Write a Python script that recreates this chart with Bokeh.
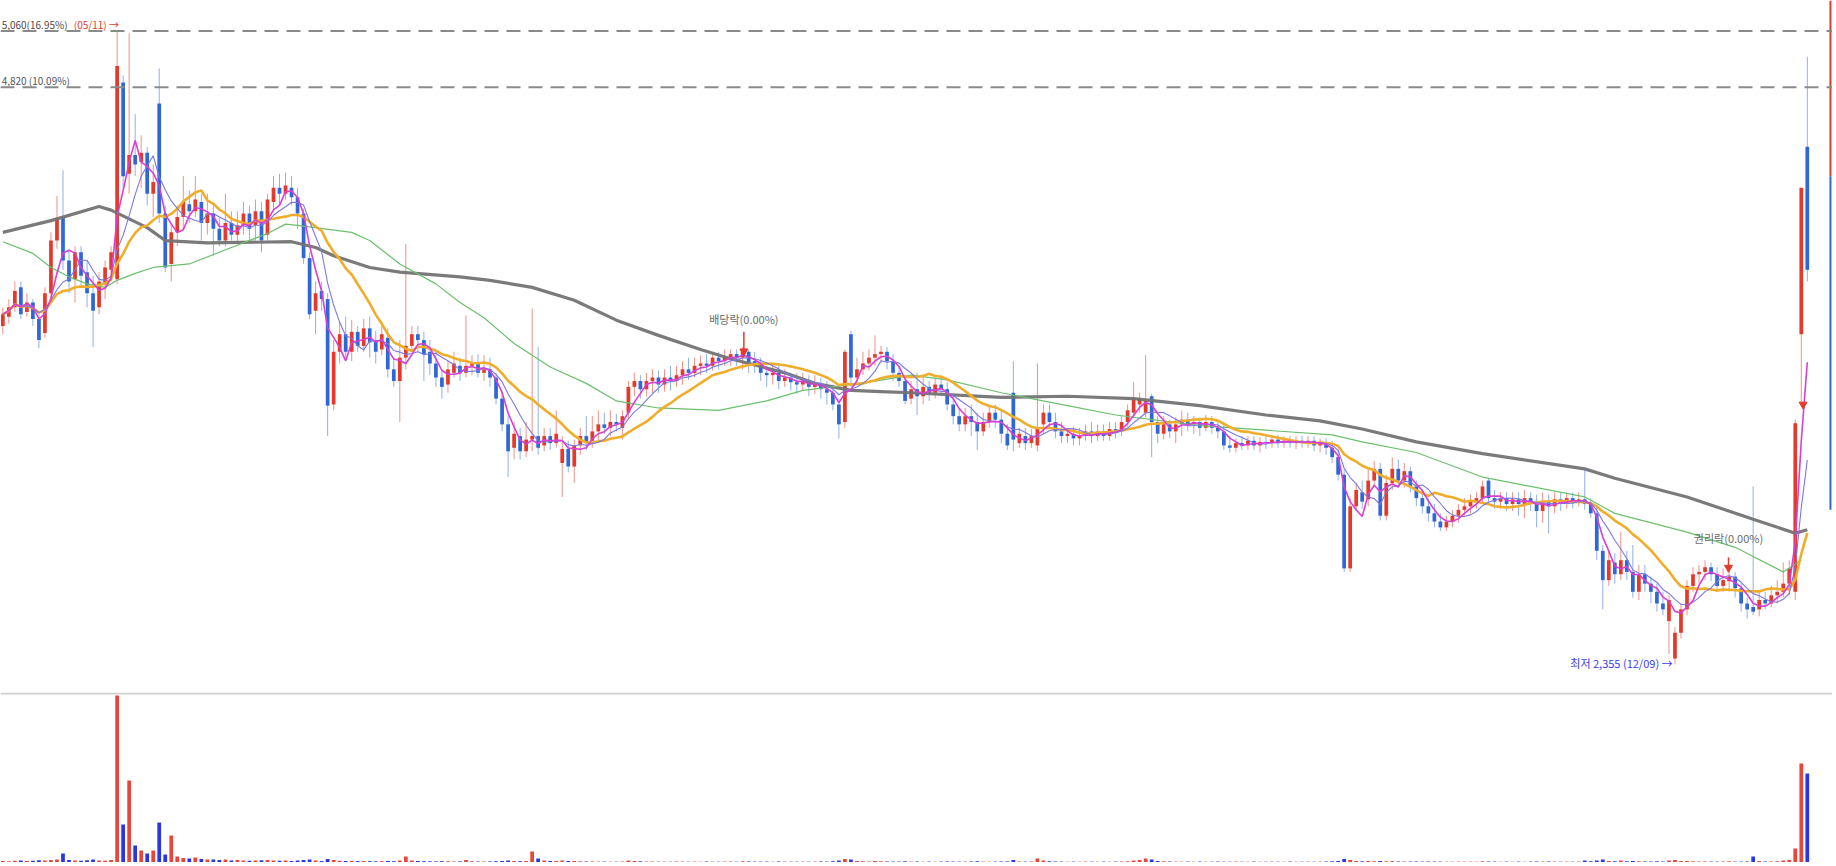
import numpy as np
import pandas as pd
from bokeh.plotting import figure
from bokeh.models import ColumnDataSource, Span, Range1d
from bokeh.layouts import column
from bokeh.embed import file_html
from bokeh.resources import INLINE
from bokeh.core.properties import value

# ---------------- data (daily candles, price in KRW) ----------------
opens = [
    3800,3840,3880,3965,3860,3900,3830,3770,3940,4165,
    4265,4080,4000,4115,4030,3940,3880,3980,4040,4000,
    4840,4450,4530,4500,4540,4365,4750,4280,4065,4200,
    4265,4320,4290,4330,4240,4280,4215,4165,4240,4190,
    4230,4280,4230,4290,4190,4330,4390,4365,4390,4350,
    4280,4090,3865,3950,3915,3465,3690,3765,3690,3775,
    3715,3790,3740,3700,3750,3615,3565,3665,3715,3765,
    3740,3690,3640,3580,3550,3600,3630,3600,3630,3640,
    3600,3615,3580,3490,3380,3280,3330,3265,3315,3330,
    3290,3330,3300,3215,3275,3200,3290,3330,3310,3350,
    3380,3365,3390,3365,3430,3540,3565,3530,3565,3580,
    3550,3580,3565,3590,3615,3600,3630,3640,3630,3665,
    3650,3665,3680,3665,3690,3650,3630,3600,3590,3600,
    3565,3580,3560,3550,3565,3540,3550,3530,3515,3465,
    3390,3765,3580,3615,3640,3665,3680,3690,3650,3600,
    3565,3490,3530,3500,3540,3515,3550,3530,3465,3415,
    3380,3415,3390,3350,3390,3430,3400,3340,3515,3300,
    3330,3300,3290,3380,3430,3390,3350,3330,3340,3320,
    3330,3350,3330,3350,3330,3360,3350,3390,3430,3465,
    3430,3500,3390,3340,3380,3350,3380,3400,3380,3390,
    3365,3390,3365,3350,3290,3280,3300,3290,3310,3290,
    3305,3300,3315,3300,3310,3300,3310,3300,3310,3290,
    3300,3280,3240,3165,2765,3030,3090,3060,3140,3190,
    2990,3130,3190,3140,3180,3115,3065,3030,3000,2965,
    2940,2965,2990,3015,3030,3050,3065,3140,3065,3050,
    3065,3040,3060,3040,3065,3040,3010,3050,3030,3060,
    3040,3065,3050,3060,3040,3000,2840,2715,2790,2740,
    2800,2750,2665,2740,2700,2665,2615,2540,2380,2490,
    2590,2690,2740,2750,2770,2740,2690,2710,2730,2680,
    2615,2600,2590,2630,2615,2650,2665,2700,2665,3765,4565,
]
highs = [
    3880,3915,3990,3990,3940,3915,3850,3965,4200,4355,
    4465,4130,4140,4140,4080,4015,4030,4080,4140,5060,
    4870,5050,4705,4615,4565,4490,4900,4315,4240,4315,
    4440,4380,4440,4365,4365,4330,4265,4365,4290,4290,
    4330,4315,4340,4330,4365,4440,4450,4455,4440,4390,
    4300,4115,3990,3990,3940,3740,3815,3840,3825,3800,
    3830,3840,3780,3800,3790,3665,3740,4150,3800,3800,
    3775,3740,3690,3615,3650,3690,3665,3845,3675,3680,
    3675,3665,3600,3515,3415,3390,3365,3390,3875,3710,
    3365,3365,3440,3330,3310,3315,3365,3415,3415,3440,
    3430,3440,3425,3440,3565,3600,3590,3600,3615,3610,
    3615,3630,3630,3650,3665,3665,3675,3680,3690,3690,
    3700,3700,3700,3710,3700,3690,3665,3630,3640,3630,
    3615,3600,3600,3600,3590,3590,3580,3565,3550,3490,
    3700,3780,3665,3690,3700,3760,3715,3710,3680,3630,
    3590,3565,3600,3580,3565,3580,3590,3560,3500,3450,
    3450,3465,3430,3430,3465,3465,3440,3380,3650,3365,
    3365,3360,3640,3465,3465,3430,3390,3365,3370,3365,
    3380,3390,3380,3380,3390,3390,3415,3465,3560,3515,
    3675,3510,3415,3415,3400,3410,3440,3430,3415,3410,
    3420,3415,3400,3380,3330,3320,3330,3330,3330,3325,
    3330,3335,3335,3330,3330,3330,3330,3330,3330,3320,
    3320,3310,3270,3190,3065,3130,3140,3190,3225,3215,
    3165,3240,3230,3215,3200,3140,3100,3065,3040,3000,
    2990,3015,3040,3065,3080,3090,3140,3150,3100,3090,
    3090,3090,3090,3100,3090,3080,3090,3080,3090,3090,
    3090,3090,3090,3185,3065,3030,2865,2840,2830,2920,
    2840,2865,2780,2780,2730,2700,2665,2650,2515,2615,
    2715,2770,2780,2800,2790,2770,2765,2780,2750,2700,
    2640,3115,2665,2665,2690,2715,2790,2800,3400,4390,4950,
]
lows = [
    3765,3810,3860,3830,3840,3800,3705,3750,3900,4130,
    4040,3940,3900,3965,3880,3710,3850,3915,3990,3980,
    4390,4365,4440,4390,4315,4265,4240,4030,3990,4140,
    4215,4240,4265,4165,4190,4100,4140,4140,4165,4155,
    4190,4165,4165,4115,4165,4290,4315,4340,4315,4215,
    4065,3830,3765,3865,3330,3440,3640,3665,3650,3690,
    3690,3665,3640,3675,3580,3540,3390,3615,3690,3690,
    3565,3590,3540,3490,3515,3580,3565,3580,3590,3580,
    3565,3540,3465,3350,3155,3230,3230,3240,3265,3250,
    3265,3270,3280,3070,3175,3130,3250,3270,3280,3300,
    3340,3330,3350,3315,3400,3500,3490,3500,3515,3515,
    3520,3525,3540,3550,3570,3580,3590,3600,3610,3615,
    3630,3630,3630,3615,3600,3600,3565,3540,3550,3530,
    3540,3525,3510,3525,3500,3510,3490,3465,3440,3320,
    3365,3540,3550,3590,3610,3630,3640,3615,3565,3540,
    3465,3465,3420,3465,3480,3490,3500,3440,3380,3350,
    3350,3330,3270,3330,3365,3365,3300,3270,3265,3280,
    3270,3280,3265,3340,3365,3320,3300,3300,3290,3290,
    3310,3300,3310,3310,3310,3320,3330,3370,3410,3430,
    3410,3240,3300,3315,3320,3300,3330,3350,3340,3330,
    3350,3340,3320,3270,3260,3260,3270,3270,3270,3260,
    3275,3280,3280,3280,3280,3275,3280,3280,3265,3260,
    3250,3215,3140,2750,2750,3010,3020,3030,3115,2970,
    2970,3100,3115,3110,3090,3030,3000,2965,2940,2925,
    2925,2940,2960,2990,3000,3020,3040,3040,3020,3020,
    3010,3010,2990,2980,3010,2940,2960,2915,3000,3010,
    3020,3020,3030,3015,2980,2800,2590,2690,2700,2715,
    2715,2640,2630,2665,2615,2580,2565,2400,2355,2465,
    2565,2665,2700,2715,2710,2665,2665,2665,2640,2580,
    2550,2565,2560,2590,2600,2615,2640,2650,2630,3465,3990,
]
closes = [
    3850,3880,3950,3850,3900,3830,3740,3940,4165,4260,
    4080,3990,4115,4015,3940,3865,3990,4050,4115,4910,
    4440,4530,4490,4540,4365,4415,4280,4050,4200,4265,
    4330,4290,4340,4240,4280,4215,4165,4240,4190,4230,
    4280,4215,4290,4165,4340,4390,4365,4400,4350,4280,
    4090,3850,3940,3915,3460,3690,3765,3690,3775,3715,
    3790,3730,3690,3765,3615,3565,3665,3715,3765,3740,
    3680,3640,3580,3540,3615,3640,3600,3630,3640,3600,
    3615,3580,3490,3380,3265,3340,3265,3315,3330,3280,
    3330,3300,3340,3275,3200,3290,3330,3300,3350,3380,
    3365,3390,3380,3415,3540,3565,3530,3565,3580,3550,
    3580,3565,3590,3615,3600,3630,3640,3630,3665,3650,
    3665,3680,3665,3690,3640,3630,3600,3590,3600,3565,
    3580,3560,3550,3565,3540,3550,3530,3515,3465,3380,
    3690,3580,3615,3640,3665,3680,3690,3650,3600,3565,
    3480,3530,3500,3540,3515,3550,3530,3465,3415,3380,
    3415,3390,3350,3390,3430,3400,3340,3290,3315,3340,
    3300,3330,3365,3430,3390,3350,3330,3340,3320,3330,
    3350,3330,3350,3330,3360,3350,3390,3440,3490,3490,
    3480,3390,3340,3380,3350,3380,3400,3380,3390,3365,
    3390,3365,3350,3290,3280,3300,3290,3310,3290,3305,
    3300,3315,3300,3310,3300,3310,3300,3310,3290,3300,
    3280,3240,3165,2765,3030,3100,3050,3140,3190,2990,
    3130,3190,3140,3180,3115,3065,3030,3000,2965,2940,
    2965,2990,3015,3030,3050,3065,3115,3065,3050,3065,
    3040,3060,3040,3065,3040,3010,3050,3030,3060,3040,
    3065,3050,3060,3040,3000,2840,2715,2800,2740,2800,
    2750,2665,2740,2700,2665,2615,2590,2630,2490,2590,
    2690,2740,2750,2770,2740,2690,2715,2730,2680,2615,
    2590,2580,2630,2615,2650,2665,2700,2765,3385,4390,4040,
]
# volume, thousand shares
volumes = [
    150,120,180,200,150,170,220,190,260,300,
    900,250,200,180,220,300,200,180,260,16700,
    3800,8200,1700,1200,900,1200,4000,800,2700,600,
    450,400,500,350,300,300,250,300,200,250,
    200,180,200,220,250,200,180,200,150,200,
    250,300,200,150,350,250,180,150,160,140,
    150,130,120,140,150,130,200,600,200,150,
    130,120,110,130,120,100,110,250,120,100,
    100,110,130,150,200,150,130,150,1100,400,
    200,150,150,200,150,150,120,100,100,90,
    90,80,80,100,200,150,120,100,90,80,
    90,80,100,90,80,90,80,100,90,80,
    90,100,80,120,100,90,80,90,80,100,
    90,80,80,90,80,90,100,90,120,200,
    350,300,150,120,100,150,120,100,90,90,
    120,90,100,80,90,80,90,100,90,80,
    90,100,120,90,80,90,100,110,250,100,
    90,100,400,200,120,100,90,80,90,80,
    90,80,80,90,80,90,100,120,200,250,
    400,300,150,120,100,90,80,90,80,90,
    80,80,90,80,80,90,80,80,90,80,
    80,90,80,80,90,80,80,90,80,90,
    100,120,150,350,250,150,120,150,120,150,
    120,130,100,100,90,100,90,100,90,90,
    80,80,90,80,90,80,120,100,90,80,
    90,80,90,80,90,100,90,100,90,80,
    90,80,90,200,120,200,300,150,120,200,
    120,150,120,100,100,120,100,200,250,150,
    150,120,100,100,90,90,100,120,90,90,
    100,600,150,100,100,120,200,250,1400,9900,8900,
]

# long moving averages as drawn on the chart
ma60_x = [0,5,8,11,14,17,19,22,25,31,38,44,47,49,58,61,66,72,76,80,85,91,97,102,109,119,127,133,138,144,
          151,157,166,177,185,199,210,221,226,235,246,252,263,268,280,288,296,299]
ma60_y = [4160,4110,4050,4010,3980,3965,3995,4025,4050,4065,4135,4195,4235,4230,4200,4165,4065,3980,3900,3835,
          3725,3625,3555,3480,3450,3440,3480,3525,3540,3560,3590,3570,3515,3460,3420,3375,3355,3335,3305,3260,
          3155,3125,3070,3000,2920,2855,2750,2800]
ma120_x = [0,8,16,18,24,27,34,48,52,55,61,66,76,81,88,95,102,109,116,121,130,135,141,146,151,166,177,188,199,210,
           219,226,235,246,263,268,280,291,298,300]
ma120_y = [4200,4250,4310,4295,4220,4165,4155,4160,4135,4100,4050,4030,4010,3995,3965,3910,3825,3760,3700,3660,
           3600,3555,3525,3520,3515,3495,3500,3490,3460,3420,3395,3360,3305,3255,3190,3150,3070,2975,2915,2930]

# reference lines and labels
max_price = 5060
ref_price = 4820
max_label = "5,060(16.95%)"
max_date_label = "(05/11) →"
ref_label = "4,820 (10.09%)"
low_label = "최저 2,355 (12/09) →"
low_pos = (277.6, 2360)
event_x = [123.2, 286.9]
event_text = ["배당락(0.00%)", "권리락(0.00%)"]
event_text_y = [3795, 2862]
event_arrow_top = [3775, 2812]
event_arrow_tip = [3680, 2756]
last_mark = (299.3, 3465)
right_bar_x = 303.85
right_bar_red = (5190, 4440)
right_bar_blue = (4440, 3015)

N = len(closes)
assert len(opens) == N and len(highs) == N and len(lows) == N and len(volumes) == N, \
    (len(opens), len(highs), len(lows), len(closes), len(volumes))

# ---------------- figure ----------------
RED = "#e5392c"
BLUE = "#2f68d6"
RED_W = "#f29088"
BLUE_W = "#8fb0ea"
VRED = "#e8463b"
VBLUE = "#2a36e2"
FONT = value("Noto Sans CJK KR")

W = 1832
idx = np.arange(N)
o = np.array(opens, float)
h = np.array(highs, float)
l = np.array(lows, float)
c = np.array(closes, float)
up = c >= o
top = np.maximum(o, c)
bot = np.minimum(o, c)
top = np.where(top - bot < 4, bot + 4, top)

src = ColumnDataSource(dict(x=idx, h=h, l=l, top=top, bot=bot,
                            fill=np.where(up, RED, BLUE), wick=np.where(up, RED_W, BLUE_W)))

X0, X1 = -0.389, 304.19
p = figure(width=W, height=692, x_range=Range1d(X0, X1), y_range=Range1d(2235, 5190),
           output_backend="svg", toolbar_location=None, x_axis_location=None, y_axis_location=None,
           min_border=0)
p.outline_line_color = None
p.xgrid.grid_line_color = None
p.ygrid.grid_line_color = None

for loc in (max_price, ref_price):
    p.add_layout(Span(location=loc, dimension="width", line_color="#8a8a8a",
                      line_dash="14 8", line_width=2))

p.segment(x0="x", y0="h", x1="x", y1="l", line_color="wick", line_width=1, source=src)
p.vbar(x="x", width=0.62, top="top", bottom="bot", fill_color="fill", line_color=None, source=src)

cs = pd.Series(c)
ma_fast = cs.rolling(4, min_periods=1).mean()
ma_mid = cs.rolling(7, min_periods=1).mean()
ma_slow = cs.rolling(15, min_periods=1).mean()

p.line(ma120_x, ma120_y, line_color="#737373", line_width=3.2, line_alpha=0.95)
p.line(ma60_x, ma60_y, line_color="#6cc06c", line_width=1.2)
p.line(idx, ma_slow, line_color="#f0ad2b", line_width=2.6)
p.line(idx, ma_mid, line_color="#7b78e0", line_width=1.1)
p.line(idx, ma_fast, line_color="#d83fd4", line_width=1.6)

# event arrows
p.segment(x0=event_x, y0=event_arrow_top, x1=event_x, y1=event_arrow_tip, line_color=RED, line_width=1.5)
p.scatter(x=event_x, y=[v + 12 for v in event_arrow_tip], marker="inverted_triangle", size=8,
          fill_color=RED, line_color=RED)
p.text(x=event_x, y=event_text_y, text=event_text, text_font=FONT, text_font_size="11px",
       text_color="#6b6b6b", text_align="center", text_baseline="bottom")
p.scatter(x=[last_mark[0]], y=[last_mark[1]], marker="inverted_triangle", size=8,
          fill_color=RED, line_color=RED)

# max / reference / low labels
p.text(x=[-0.2], y=[5088], text=[max_label], text_font=FONT, text_font_size="10px",
       text_color="#5a4646", text_align="left", text_baseline="middle")
p.text(x=[11.8], y=[5088], text=[max_date_label], text_font=FONT, text_font_size="10px",
       text_color=RED, text_align="left", text_baseline="middle")
p.text(x=[-0.2], y=[4850], text=[ref_label], text_font=FONT, text_font_size="10px",
       text_color="#555555", text_align="left", text_baseline="middle")
p.text(x=[low_pos[0]], y=[low_pos[1]], text=[low_label], text_font=FONT, text_font_size="11px",
       text_color="#3b3bf2", text_align="right", text_baseline="middle")

# right edge bar
p.segment(x0=[right_bar_x], y0=[right_bar_red[0]], x1=[right_bar_x], y1=[right_bar_red[1]],
          line_color=RED, line_width=2)
p.segment(x0=[right_bar_x], y0=[right_bar_blue[0]], x1=[right_bar_x], y1=[right_bar_blue[1]],
          line_color=BLUE, line_width=2)

# ---------------- volume ----------------
vsrc = ColumnDataSource(dict(x=idx, v=volumes, col=np.where(up, VRED, VBLUE)))
p2 = figure(width=W, height=170, x_range=p.x_range, y_range=Range1d(0, 17000),
            output_backend="svg", toolbar_location=None, x_axis_location=None, y_axis_location=None,
            min_border=0)
p2.outline_line_color = None
p2.xgrid.grid_line_color = None
p2.ygrid.grid_line_color = None
p2.add_layout(Span(location=16900, dimension="width", line_color="#d0d0d0", line_width=2))
p2.vbar(x="x", width=0.62, top="v", bottom=0, fill_color="col", line_color=None, source=vsrc)

layout = column(p, p2, spacing=0)
open("out.html", "w").write(file_html(layout, INLINE, "chart"))
